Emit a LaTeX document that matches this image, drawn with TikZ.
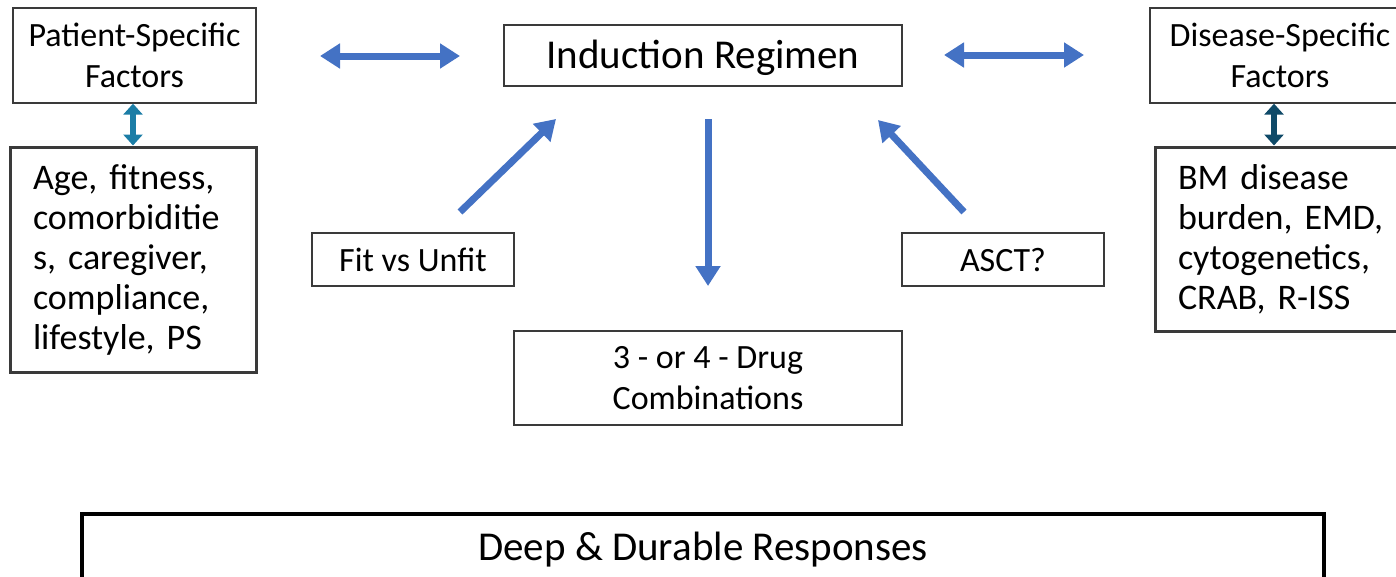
\documentclass[tikz,border=0pt]{standalone}
\usepackage{fontspec}
\setmainfont{Carlito}
\frenchspacing
\usetikzlibrary{arrows.meta}
\definecolor{arrblue}{HTML}{4472C4}
\definecolor{tealA}{HTML}{1B7DA6}
\definecolor{tealB}{HTML}{0F4A68}
\definecolor{edge}{HTML}{3A3A3A}
\begin{document}
\begin{tikzpicture}[x=1pt,y=-1pt,
  thinbox/.style={draw=edge,line width=1.3pt,inner sep=0pt,align=center},
  thickbox/.style={draw=edge,line width=3pt,inner sep=0pt},
  bigarrow/.style={arrblue,line width=7pt,-{Triangle[length=20pt,width=24pt]}},
  bigdouble/.style={arrblue,line width=7pt,{Triangle[length=20pt,width=24pt]}-{Triangle[length=20pt,width=24pt]}},
  smalldouble/.style={line width=6pt,{Triangle[length=11pt,width=19pt]}-{Triangle[length=11pt,width=19pt]}},
  f26/.style={font=\fontsize{34}{41}\selectfont\frenchspacing},
  f28/.style={font=\fontsize{36}{40}\selectfont\frenchspacing},
  f34/.style={font=\fontsize{41}{41}\selectfont\frenchspacing}]
\useasboundingbox (0,0) rectangle (1396,576);
\clip (0,0) rectangle (1396,576);
\node[thinbox,f26,minimum width=243,minimum height=95] (psf) at (134.5,55.5) {Patient-Specific\\Factors};
\node[thinbox,minimum width=398,minimum height=61] (ind) at (703,55.5) {};
\node[f34] at (703,57.5) {Induction Regimen};
\node[thinbox,f26,minimum width=260,minimum height=95,text width=240] (dsf) at (1280,55.5) {Disease-Specific\\Factors};
\node[thickbox,f28,minimum width=246,minimum height=225,text width=200,align=left] (age) at (133,259.5) {Age, fitness,\\comorbiditie\\s, caregiver,\\compliance,\\lifestyle, PS};
\node[thickbox,f28,minimum width=260,minimum height=184,text width=214,align=left] (bm) at (1285,239) {BM disease\\burden, EMD,\\cytogenetics,\\CRAB, R-ISS};
\node[thinbox,f26,minimum width=202,minimum height=53] (fit) at (413,259.5) {Fit vs Unfit};
\node[thinbox,f26,minimum width=202,minimum height=53] (asct) at (1003,259.5) {ASCT?};
\node[thinbox,f26,minimum width=388,minimum height=94] (drug) at (708,378) {3 - or 4 - Drug\\Combinations};
\node[draw=black,line width=4pt,inner sep=0pt,minimum width=1242,minimum height=70] (deep) at (703,549) {};
\node[f34] at (703,549.5) {Deep \& Durable Responses};
% connectors
\coordinate (l1) at (320,56); \coordinate (l2) at (460,56);
\draw[bigdouble] (l1) -- (l2);
\coordinate (r1) at (944,55); \coordinate (r2) at (1084,55);
\draw[bigdouble] (r1) -- (r2);
\draw[smalldouble,tealA] (psf.south -| 133,0) -- (age.north -| 133,0);
\draw[smalldouble,tealB] (dsf.south -| 1274,0) -- (bm.north -| 1274,0);
\coordinate (fa) at (460,212); \coordinate (fb) at (556,119);
\draw[bigarrow] (fa) -- (fb);
\coordinate (aa) at (964,212); \coordinate (ab) at (878,120);
\draw[bigarrow] (aa) -- (ab);
\coordinate (da) at (708,119); \coordinate (db) at (708,286);
\draw[bigarrow] (da) -- (db);
\end{tikzpicture}
\end{document}
